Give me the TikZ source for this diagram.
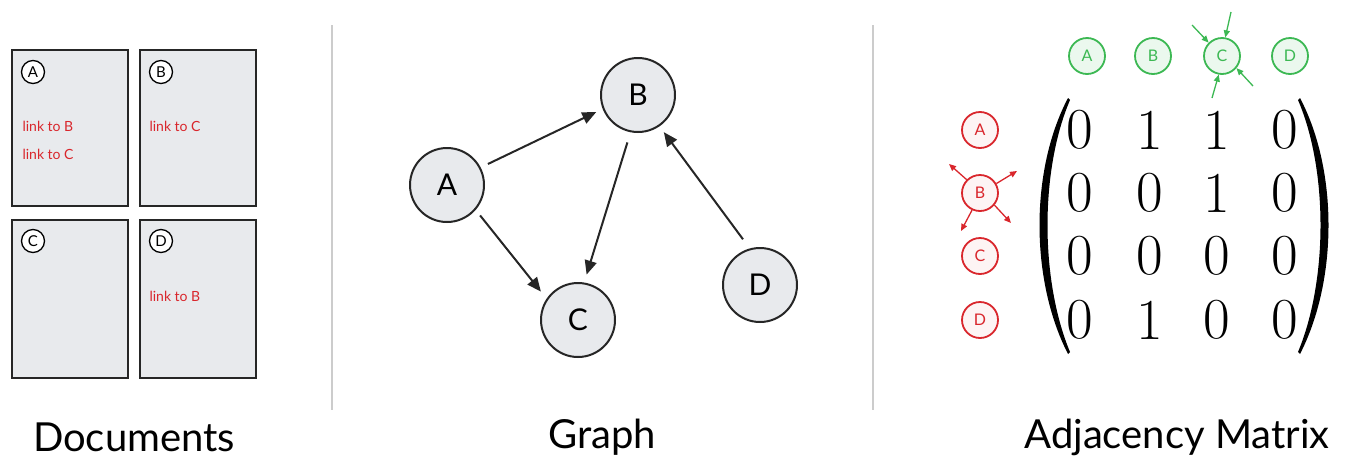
\documentclass[tikz,border=0pt]{standalone}
\usepackage{fontspec}
\setmainfont{Lato}
\newfontfamily\lmr{Latin Modern Roman}
\usetikzlibrary{arrows.meta}
\definecolor{nodefill}{HTML}{E8EAED}
\definecolor{rd}{HTML}{D9262C}
\definecolor{gr}{HTML}{3CB853}
\begin{document}
\begin{tikzpicture}[x=1pt,y=-1pt,
 doc/.style={draw=black!85,line width=2pt,fill=nodefill},
 tag/.style={circle,draw,line width=1.3pt,fill=white,minimum size=23pt,inner sep=0,font=\fontsize{15}{15}\selectfont},
 lnk/.style={text=rd,anchor=west,font=\fontsize{14}{14}\selectfont},
 gn/.style={circle,draw=black!85,line width=2pt,fill=nodefill,minimum size=74pt,inner sep=0,font=\fontsize{30}{30}\selectfont},
 ga/.style={-{Triangle[length=14pt,width=12pt]},line width=2pt,black!85},
 gt/.style={circle,draw=gr,line width=1.8pt,fill=gr!10,text=gr,minimum size=36pt,inner sep=0,font=\fontsize{16}{16}\selectfont},
 rt/.style={circle,draw=rd,line width=1.8pt,fill=rd!5,text=rd,minimum size=36pt,inner sep=0,font=\fontsize{16}{16}\selectfont},
 ttl/.style={font=\fontsize{40}{40}\selectfont},
 sep/.style={draw=black!20,line width=2pt},
 num/.style={inner sep=0,font=\fontsize{58}{58}\selectfont\lmr}]
\useasboundingbox (0,0) rectangle (1349,472);
% documents
\draw[doc] (12,50) rectangle (128,206);
\draw[doc] (140,50) rectangle (256,206);
\draw[doc] (12,220) rectangle (128,378);
\draw[doc] (140,220) rectangle (256,378);
\node[tag] (dA) at (33,72) {A};
\node[tag] (dB) at (161,72) {B};
\node[tag] (dC) at (33,241) {C};
\node[tag] (dD) at (161,241) {D};
\node[lnk] (l1) at (19,126) {link to B};
\node[lnk] (l2) at (19,154) {link to C};
\node[lnk] (l3) at (146,126) {link to C};
\node[lnk] (l4) at (146,296) {link to B};
% separators
\coordinate (s1a) at (332,25); \coordinate (s1b) at (332,410);
\coordinate (s2a) at (873,25); \coordinate (s2b) at (873,410);
\draw[sep] (s1a)--(s1b); \draw[sep] (s2a)--(s2b);
% graph
\node[gn] (A) at (447,185) {A};
\node[gn] (B) at (638,95) {B};
\node[gn] (C) at (578,320) {C};
\node[gn] (D) at (760,285) {D};
\draw[ga] ([shift={(8,-2)}]A.30) -- ([shift={(-6,4)}]B.200);
\draw[ga] ([shift={(4,6)}]A.-40) -- ([shift={(-8,-4)}]C.140);
\draw[ga] ([shift={(-4,10)}]B.-100) -- ([shift={(2,-8)}]C.80);
\draw[ga] ([shift={(-4,-10)}]D.110) -- ([shift={(4,6)}]B.-55);
% matrix headers
\node[gt] (cA) at (1087,56) {A};
\node[gt] (cB) at (1153,56) {B};
\node[gt] (cC) at (1222,56) {C};
\node[gt] (cD) at (1290,56) {D};
\node[rt] (rA) at (980,130) {A};
\node[rt] (rB) at (980,193) {B};
\node[rt] (rC) at (980,256) {C};
\node[rt] (rD) at (980,320) {D};
\coordinate (g1) at (1231,12); \coordinate (g2) at (1192,25);
\coordinate (g3) at (1212,98); \coordinate (g4) at (1253,86);
\begin{scope}[gr,line width=1.3pt,-{Triangle[length=7pt,width=6pt]}]
\draw (g1) -- (cC.80); \draw (g2) -- (cC.135);
\draw (g3) -- (cC.-100); \draw (g4) -- (cC.-40);
\end{scope}
\coordinate (r1) at (949,164); \coordinate (r2) at (1017,171);
\coordinate (r3) at (961,231); \coordinate (r4) at (1011,223);
\begin{scope}[rd,line width=1.3pt,-{Triangle[length=7pt,width=6pt]}]
\draw (rB.135) -- (r1); \draw (rB.30) -- (r2);
\draw (rB.-115) -- (r3); \draw (rB.-40) -- (r4);
\end{scope}
% matrix entries
\foreach \r/\y/\row in {1/130/{0,1,1,0},2/193/{0,0,1,0},3/256/{0,0,0,0},4/320/{0,1,0,0}}{
  \foreach \v [count=\c] in \row {
    \pgfmathsetmacro{\xx}{{1080,1150,1217,1285}[\c-1]}
    \node[num] (m\r\c) at (\xx,\y) {\v};
  }
}
% parentheses
\fill (1068,98) .. controls (1030,170) and (1030,280) .. (1068,354)
  -- (1070,352) .. controls (1040,280) and (1040,170) .. (1070,100) -- cycle;
\fill (1300,98) .. controls (1338,170) and (1338,280) .. (1300,354)
  -- (1298,352) .. controls (1328,280) and (1328,170) .. (1298,100) -- cycle;
% titles
\node[ttl] (t1) at (134,437) {Documents};
\node[ttl] (t2) at (602,437) {Graph};
\node[ttl] (t3) at (1177,437) {Adjacency Matrix};
\end{tikzpicture}
\end{document}
